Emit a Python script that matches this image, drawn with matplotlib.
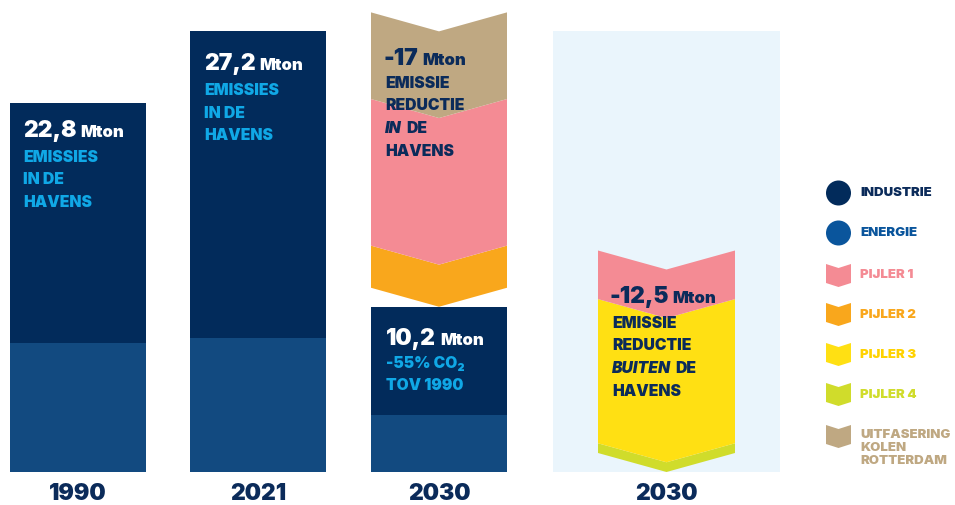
import matplotlib
matplotlib.use("Agg")
import matplotlib.pyplot as plt
from matplotlib.patches import Circle, Polygon

plt.rcParams['font.family'] = ['Inter', 'DejaVu Sans']

# data (Mton)
years = ['1990', '2021', '2030', '2030']
industrie = [14.85, 18.9, 6.7]      # 1990, 2021, 2030
energie = [7.95, 8.3, 3.5]
totaal_txt = ['22,8', '27,2', '10,2']
# reductie in de havens, stacked from 10.2 upward
red_in = [2.6, 9.05, 5.35]          # pijler 2, pijler 1, kolen
red_in_txt = '-17'
# reductie buiten de havens, stacked from 0 upward
red_buiten = [0.6, 8.9, 3.0]        # pijler 4, pijler 3, pijler 1
red_buiten_txt = '-12,5'
legend_labels = ['INDUSTRIE', 'ENERGIE', 'PIJLER 1', 'PIJLER 2', 'PIJLER 3', 'PIJLER 4',
                 'UITFASERING\nKOLEN\nROTTERDAM']

# colours
NAVY = '#022b5b'
BLUE = '#124a80'
BLUE_LEG = '#0a559c'
LBLUE = '#10a8e6'
PINK = '#f48b94'
ORANGE = '#f9a71c'
YELLOW = '#ffe013'
GREEN = '#d0dc2b'
TAN = '#bfa882'
BG = '#eaf5fc'
TXT = '#0b2b5a'

# layout (pixels)
W, H = 955, 505
PX = 16.2          # pixels per Mton
Y0 = 472           # pixel row of 0 Mton
NOTCH = 19 / PX    # chevron depth in Mton units
cols = [(10, 146), (190, 326), (371, 507)]
col4_bg = (553, 780)
col4 = (598, 735)
WEIGHT = 900

fig = plt.figure(figsize=(W / 100, H / 100), dpi=100)
ax = fig.add_axes([0, 0, 1, 1])
ax.set_xlim(0, W)
ax.set_ylim(-(H - Y0) / PX, Y0 / PX)
ax.axis('off')

# stacked bars
for (x0, x1), e, i in zip(cols, energie, industrie):
    ax.bar(x0, e, width=x1 - x0, align='edge', color=BLUE, linewidth=0)
    ax.bar(x0, i, width=x1 - x0, bottom=e, align='edge', color=NAVY, linewidth=0)

# background of column 4 (height of 2021)
ax.bar(col4_bg[0], energie[1] + industrie[1], width=col4_bg[1] - col4_bg[0],
       align='edge', color=BG, linewidth=0)


def chevron(x0, x1, b, v, color):
    xc = (x0 + x1) / 2
    t = b + v
    xs = [x0, xc, x1, x1, xc, x0]
    ys = [b + NOTCH, b, b + NOTCH, t + NOTCH, t, t + NOTCH]
    ax.fill(xs, ys, color=color, linewidth=0)
    return t


base = energie[2] + industrie[2]
for v, c in zip(red_in, [ORANGE, PINK, TAN]):
    base = chevron(cols[2][0], cols[2][1], base, v, c)

base = 0
for v, c in zip(red_buiten, [GREEN, YELLOW, PINK]):
    base = chevron(col4[0], col4[1], base, v, c)

# overlay in pixel coordinates for text and legend
ov = fig.add_axes([0, 0, 1, 1])
ov.set_xlim(0, W)
ov.set_ylim(H, 0)
ov.axis('off')
ov.patch.set_alpha(0)
fig.canvas.draw()
renderer = fig.canvas.get_renderer()


def line(x, y, parts):
    for txt, size, color, style in parts:
        t = ov.text(x, y, txt, fontsize=size, color=color, fontstyle=style,
                    fontweight=WEIGHT, va='baseline', ha='left')
        x += t.get_window_extent(renderer).width + 4


BIG, MID, SM = 16.5, 12, 11.3
# 1990 and 2021 labels
for (x, y), val in zip([(23, 137), (204, 70)], totaal_txt[:2]):
    line(x, y, [(val, BIG, 'white', 'normal'), ('Mton', MID, 'white', 'normal')])
    for k, s in enumerate(['EMISSIES', 'IN DE', 'HAVENS']):
        line(x, y + 25 + 22.5 * k, [(s, SM, LBLUE, 'normal')])

# 2030 in de havens
line(386, 345, [(totaal_txt[2], BIG, 'white', 'normal'), ('Mton', MID, 'white', 'normal')])
line(386, 368, [('-55% CO₂', SM, LBLUE, 'normal')])
line(386, 390, [('TOV 1990', SM, LBLUE, 'normal')])

line(383, 65, [(red_in_txt, BIG, TXT, 'normal'), ('Mton', MID, TXT, 'normal')])
line(385, 88, [('EMISSIE', SM, TXT, 'normal')])
line(385, 110, [('REDUCTIE', SM, TXT, 'normal')])
line(385, 133, [('IN', SM, TXT, 'italic'), ('DE', SM, TXT, 'normal')])
line(385, 156, [('HAVENS', SM, TXT, 'normal')])

line(609, 303, [(red_buiten_txt, BIG, TXT, 'normal'), ('Mton', MID, TXT, 'normal')])
line(612, 328, [('EMISSIE', SM, TXT, 'normal')])
line(612, 350, [('REDUCTIE', SM, TXT, 'normal')])
line(612, 373, [('BUITEN', SM, TXT, 'italic'), ('DE', SM, TXT, 'normal')])
line(612, 396, [('HAVENS', SM, TXT, 'normal')])

# year labels
for (x0, x1), yr in zip(cols + [col4_bg], years):
    ov.text((x0 + x1) / 2, 494, yr, fontsize=16.5, fontweight=WEIGHT, color=TXT,
            ha='center', va='center')

# legend
leg_colors = [NAVY, BLUE_LEG, PINK, ORANGE, YELLOW, GREEN, TAN]
leg_text_colors = [TXT, BLUE_LEG, PINK, ORANGE, '#ffd200', GREEN, TAN]
leg_y = [193, 233, 275.5, 314.5, 354.5, 394.5, 436.5]
for lab, c, tc, y in zip(legend_labels, leg_colors, leg_text_colors, leg_y):
    if lab in ('INDUSTRIE', 'ENERGIE'):
        ov.add_patch(Circle((838.5, y), 12.5, color=c, linewidth=0))
    else:
        x0, x1, xc = 826, 851, 838.5
        pts = [(x0, y - 11.5), (xc, y - 7.5), (x1, y - 11.5),
               (x1, y + 7.5), (xc, y + 11.5), (x0, y + 7.5)]
        ov.add_patch(Polygon(pts, closed=True, color=c, linewidth=0))
    ov.text(860, y if '\n' not in lab else y - 7, lab, fontsize=9.5, fontweight=WEIGHT,
            color=tc, ha='left', va='center' if '\n' not in lab else 'top',
            linespacing=1.1)

fig.savefig('out.png', dpi=100)
